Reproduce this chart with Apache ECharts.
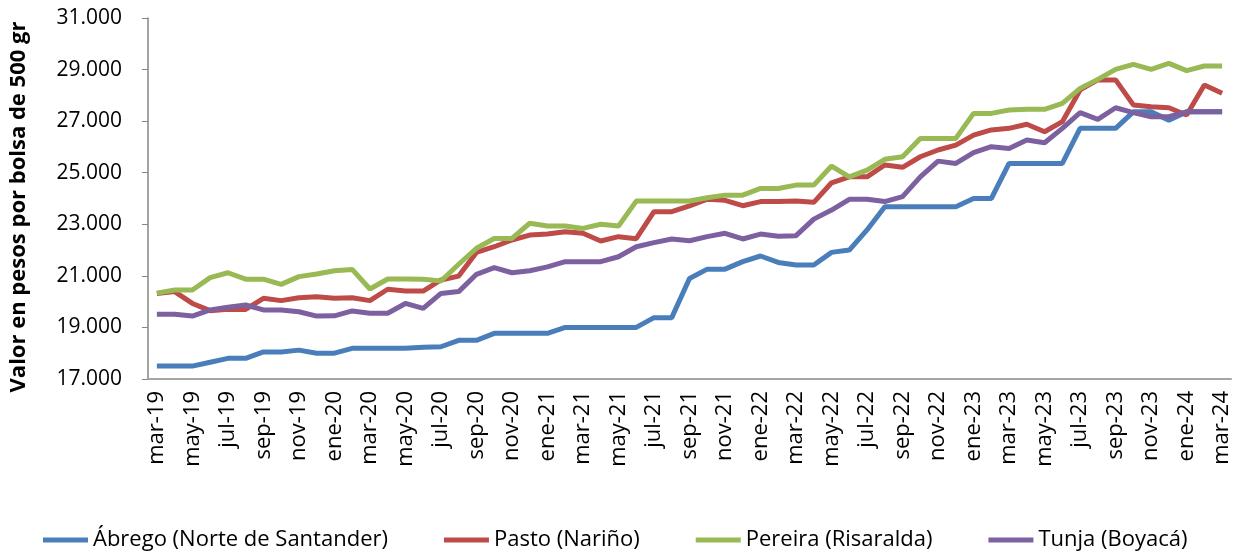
<!DOCTYPE html>
<html>
<head>
<meta charset="utf-8">
<script src="https://cdn.jsdelivr.net/npm/echarts@6/dist/echarts.min.js"></script>
<style>
  html, body { margin: 0; padding: 0; background: #fff; }
  #chart { width: 1247px; height: 556px; }
</style>
</head>
<body>
<div id="chart"></div>
<script>
// meses (mar-19 .. mar-24)
const meses = [
  'mar-19','abr-19','may-19','jun-19','jul-19','ago-19','sep-19','oct-19','nov-19','dic-19',
  'ene-20','feb-20','mar-20','abr-20','may-20','jun-20','jul-20','ago-20','sep-20','oct-20','nov-20','dic-20',
  'ene-21','feb-21','mar-21','abr-21','may-21','jun-21','jul-21','ago-21','sep-21','oct-21','nov-21','dic-21',
  'ene-22','feb-22','mar-22','abr-22','may-22','jun-22','jul-22','ago-22','sep-22','oct-22','nov-22','dic-22',
  'ene-23','feb-23','mar-23','abr-23','may-23','jun-23','jul-23','ago-23','sep-23','oct-23','nov-23','dic-23',
  'ene-24','feb-24','mar-24'
];

const abrego = [
  17500, 17500, 17500, 17650, 17800, 17800, 18050, 18050, 18120, 18000,
  18000, 18190, 18190, 18190, 18190, 18230, 18250, 18500, 18500, 18770, 18770, 18770,
  18770, 19000, 19000, 19000, 19000, 19000, 19380, 19380, 20900, 21260, 21260, 21550,
  21770, 21520, 21420, 21420, 21910, 22000, 22780, 23680, 23680, 23680, 23680, 23680,
  24000, 24000, 25360, 25360, 25360, 25360, 26720, 26720, 26720, 27360, 27360, 27040,
  27360, 27360, 27360
];
const pasto = [
  20320, 20390, 19930, 19650, 19700, 19700, 20130, 20040, 20150, 20190,
  20130, 20150, 20040, 20480, 20410, 20410, 20840, 20990, 21910, 22130, 22390, 22580,
  22620, 22710, 22650, 22350, 22520, 22440, 23490, 23490, 23710, 23970, 23930, 23720,
  23880, 23880, 23900, 23850, 24610, 24840, 24840, 25300, 25210, 25620, 25880, 26070,
  26460, 26660, 26720, 26880, 26590, 26980, 28210, 28600, 28600, 27630, 27560, 27520,
  27240, 28400, 28080
];
const pereira = [
  20330, 20450, 20450, 20930, 21120, 20870, 20870, 20670, 20970, 21070,
  21200, 21250, 20490, 20880, 20880, 20870, 20800, 21450, 22070, 22450, 22450, 23040,
  22930, 22930, 22840, 23000, 22930, 23900, 23900, 23900, 23900, 24030, 24130, 24130,
  24390, 24390, 24520, 24520, 25260, 24840, 25100, 25520, 25620, 26330, 26330, 26330,
  27300, 27300, 27430, 27460, 27460, 27690, 28270, 28620, 29010, 29200, 29010, 29240,
  28960, 29140, 29140
];
const tunja = [
  19510, 19510, 19440, 19680, 19780, 19870, 19680, 19680, 19610, 19440,
  19450, 19640, 19550, 19550, 19930, 19740, 20320, 20390, 21060, 21320, 21120, 21200,
  21350, 21550, 21550, 21550, 21740, 22130, 22290, 22430, 22360, 22520, 22650, 22430,
  22620, 22540, 22560, 23200, 23550, 23970, 23970, 23880, 24070, 24840, 25450, 25360,
  25780, 26010, 25940, 26270, 26160, 26720, 27330, 27070, 27520, 27330, 27170, 27170,
  27360, 27360, 27360
];

const nombres = ['Ábrego (Norte de Santander)', 'Pasto (Nariño)', 'Pereira (Risaralda)', 'Tunja (Boyacá)'];
const colores = ['#4a7ebb', '#be4b48', '#98b954', '#7d60a0'];
const series = [abrego, pasto, pereira, tunja];

const fuente = '"Open Sans", "Noto Sans", sans-serif';

function miles(v) {
  return String(v).replace(/\B(?=(\d{3})+(?!\d))/g, '.');
}

var myChart = echarts.init(document.getElementById('chart'));

var option = {
  animation: false,
  textStyle: { fontFamily: fuente },
  color: colores,
  grid: { left: 148, right: 16, top: 18, bottom: 177 },
  legend: {
    bottom: 0,
    left: 38,
    itemWidth: 45,
    itemHeight: 5,
    itemGap: 56,
    icon: 'rect',
    textStyle: { fontSize: 22, color: '#000', fontFamily: fuente },
    data: nombres
  },
  xAxis: {
    type: 'category',
    data: meses,
    boundaryGap: true,
    axisLine: { lineStyle: { color: '#a6a6a6', width: 2 } },
    axisTick: { show: false },
    axisLabel: {
      interval: 1,
      rotate: 90,
      margin: 12,
      fontSize: 22,
      color: '#000'
    }
  },
  yAxis: {
    type: 'value',
    min: 17000,
    max: 31000,
    interval: 2000,
    name: 'Valor en pesos por bolsa de 500 gr',
    nameLocation: 'middle',
    nameGap: 118,
    nameTextStyle: { fontSize: 22, fontWeight: 'bold', color: '#000', padding: [0, 17, 0, 0] },
    axisLine: { show: true, lineStyle: { color: '#868686', width: 1.5 } },
    axisTick: { show: true, length: 6, lineStyle: { color: '#868686' } },
    splitLine: { show: false },
    axisLabel: {
      fontSize: 21,
      margin: 26,
      color: '#000',
      formatter: miles
    }
  },
  series: series.map(function (d, i) {
    return {
      name: nombres[i],
      type: 'line',
      data: d,
      symbol: 'none',
      lineStyle: { width: 5, color: colores[i] },
      z: 2 + i
    };
  })
};

myChart.setOption(option);
</script>
</body>
</html>
